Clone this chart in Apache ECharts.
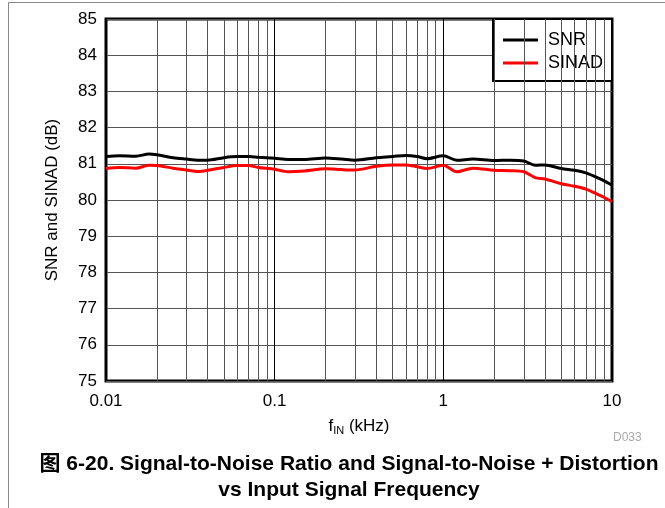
<!DOCTYPE html>
<html><head><meta charset="utf-8">
<script src="https://cdn.jsdelivr.net/npm/echarts@6/dist/echarts.min.js"></script>
<style>html,body{margin:0;padding:0;background:#fff}#c{width:665px;height:508px}</style>
</head><body><div id="c"></div>
<script>
const freq = [0.01,0.012,0.015,0.018,0.02,0.025,0.03,0.035,0.04,0.05,0.06,0.07,0.08,0.1,0.12,0.15,0.2,0.25,0.3,0.4,0.5,0.6,0.7,0.8,1.0,1.2,1.5,2,2.5,3,3.5,4,5,6,7,8,9,10];
const snr = [81.2,81.22,81.21,81.27,81.25,81.17,81.13,81.1,81.1,81.17,81.2,81.2,81.18,81.15,81.12,81.12,81.16,81.13,81.1,81.17,81.2,81.23,81.2,81.14,81.22,81.1,81.13,81.09,81.1,81.08,80.96,80.97,80.87,80.82,80.75,80.64,80.53,80.41];
const sinad = [80.87,80.9,80.88,80.96,80.95,80.88,80.83,80.79,80.82,80.9,80.95,80.95,80.9,80.85,80.78,80.8,80.86,80.84,80.83,80.93,80.97,80.97,80.92,80.87,80.96,80.78,80.88,80.82,80.81,80.78,80.62,80.58,80.45,80.38,80.3,80.18,80.07,79.95];
const xTicks = ['0.01','0.1','1','10'];
const minorX = [0.02,0.03,0.04,0.05,0.06,0.07,0.08,0.09,0.2,0.3,0.4,0.5,0.6,0.7,0.8,0.9,2,3,4,5,6,7,8,9];

const font = 'Liberation Sans, Arial, sans-serif';
const chart = echarts.init(document.getElementById('c'));
chart.setOption({
  animation: false,
  textStyle: {fontFamily: font},
  title: [{
    text: '图 6-20. Signal-to-Noise Ratio and Signal-to-Noise + Distortion\nvs Input Signal Frequency',
    left: 344, top: 446, textAlign: 'center',
    textStyle: {fontFamily: font + ', Noto Sans CJK SC', fontSize: 21, fontWeight: 'bold', color: '#000', lineHeight: 26}
  }, {
    text: 'D033', left: 608, top: 427,
    textStyle: {fontFamily: font, fontSize: 12, fontWeight: 'normal', color: '#aaa'}
  }],
  grid: {left: 106, right: 53, top: 19, bottom: 127, show: true, borderColor: '#000', borderWidth: 3, backgroundColor: 'transparent'},
  legend: {
    orient: 'vertical', right: 53, top: 19,
    data: ['SNR', 'SINAD'],
    borderColor: '#000', borderWidth: 2, backgroundColor: '#fff',
    padding: [12, 9, 9, 10], itemGap: 5,
    itemWidth: 35, itemHeight: 3, icon: 'rect',
    textStyle: {fontSize: 18, color: '#000', fontFamily: font, padding: [0, 0, 0, 5]}
  },
  xAxis: {
    type: 'log', logBase: 10, min: 0.01, max: 10,
    name: '{a|f}{s|IN}{a| (kHz)}', nameLocation: 'middle', nameGap: 36,
    nameTextStyle: {rich: {a: {fontSize: 17, color: '#000', fontFamily: font}, s: {fontSize: 11, color: '#000', fontFamily: font, verticalAlign: 'bottom', padding: [8,0,0,0]}}},
    axisLine: {show: false}, axisTick: {show: false},
    axisLabel: {fontSize: 17, color: '#000', margin: 12,
      formatter: v => { let best = xTicks[0]; xTicks.forEach(t => { if (Math.abs(Math.log10(+t) - Math.log10(v)) < Math.abs(Math.log10(+best) - Math.log10(v))) best = t; }); return best; }},
    splitLine: {show: true, lineStyle: {color: '#000', width: 1}},
    minorTick: {show: false}, minorSplitLine: {show: false}
  },
  yAxis: {
    type: 'value', min: 75, max: 85, interval: 1,
    name: 'SNR and SINAD (dB)', nameLocation: 'middle', nameGap: 45,
    nameTextStyle: {fontSize: 17, color: '#000', fontFamily: font},
    axisLine: {show: false}, axisTick: {show: false},
    axisLabel: {fontSize: 17, color: '#000', margin: 9},
    splitLine: {show: true, lineStyle: {color: '#555', width: 1}}
  },
  series: [{
    name: 'SNR', type: 'line', data: freq.map((f, i) => [f, snr[i]]),
    showSymbol: false, smooth: 0.3, lineStyle: {color: '#000', width: 3}, itemStyle: {color: '#000'}, z: 5,
    markLine: {silent: true, symbol: 'none', label: {show: false}, animation: false,
      lineStyle: {color: '#555', width: 1, type: 'solid'}, emphasis: {disabled: true},
      data: minorX.map(v => ({xAxis: v}))}
  }, {
    name: 'SINAD', type: 'line', data: freq.map((f, i) => [f, sinad[i]]),
    showSymbol: false, smooth: 0.3, lineStyle: {color: '#ff0000', width: 3}, itemStyle: {color: '#ff0000'}, z: 5
  }],
  graphic: [
    {type: 'line', shape: {x1: 8.5, y1: 2.5, x2: 665, y2: 2.5}, style: {stroke: '#888', lineWidth: 1}},
    {type: 'line', shape: {x1: 8.5, y1: 2.5, x2: 8.5, y2: 508}, style: {stroke: '#888', lineWidth: 1}}
  ]
});
</script></body></html>
